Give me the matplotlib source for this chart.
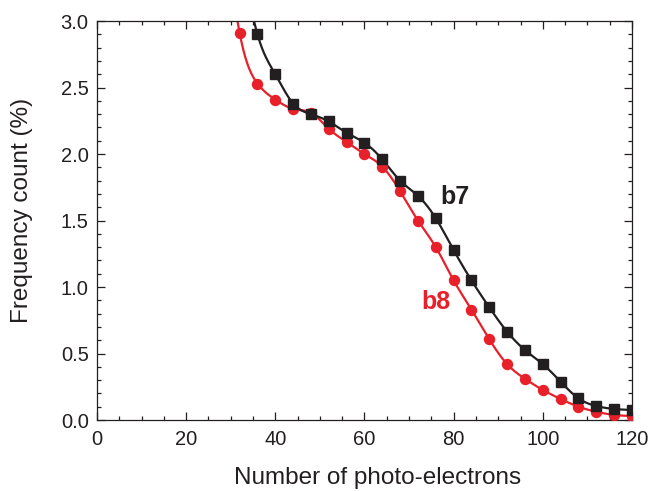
import numpy as np
import matplotlib
matplotlib.use("Agg")
import matplotlib.pyplot as plt
from matplotlib.ticker import MultipleLocator

plt.rcParams['font.family'] = ['Liberation Sans', 'DejaVu Sans']

# b7 (black squares); first point lies above the plotted range
b7_x = [32, 36, 40, 44, 48, 52, 56, 60, 64, 68, 72, 76, 80, 84, 88, 92, 96, 100, 104, 108, 112, 116, 120]
b7_y = [3.55, 2.90, 2.60, 2.38, 2.30, 2.245, 2.16, 2.085, 1.96, 1.80, 1.686, 1.517, 1.278, 1.05, 0.847, 0.664,
        0.526, 0.42, 0.288, 0.163, 0.105, 0.083, 0.075]
# b8 (red circles); first point lies above the plotted range
b8_x = [28, 32, 36, 40, 44, 48, 52, 56, 60, 64, 68, 72, 76, 80, 84, 88, 92, 96, 100, 104, 108, 112, 116, 120]
b8_y = [3.90, 2.91, 2.53, 2.41, 2.34, 2.31, 2.19, 2.09, 2.00, 1.905, 1.72, 1.50, 1.30, 1.05, 0.83, 0.607, 0.42,
        0.31, 0.226, 0.158, 0.10, 0.062, 0.038, 0.03]

x_ticks = [0, 20, 40, 60, 80, 100, 120]
y_ticks = [0.0, 0.5, 1.0, 1.5, 2.0, 2.5, 3.0]

BLACK = '#231F20'
RED = '#E8202A'


def natural_spline(x, y, n=400):
    x = np.asarray(x, float)
    y = np.asarray(y, float)
    k = len(x)
    h = np.diff(x)
    A = np.zeros((k, k))
    r = np.zeros(k)
    A[0, 0] = A[-1, -1] = 1
    for i in range(1, k - 1):
        A[i, i - 1] = h[i - 1]
        A[i, i] = 2 * (h[i - 1] + h[i])
        A[i, i + 1] = h[i]
        r[i] = 6 * ((y[i + 1] - y[i]) / h[i] - (y[i] - y[i - 1]) / h[i - 1])
    M = np.linalg.solve(A, r)
    xs = np.linspace(x[0], x[-1], n)
    idx = np.clip(np.searchsorted(x, xs) - 1, 0, k - 2)
    x0, x1 = x[idx], x[idx + 1]
    hh = x1 - x0
    a = (x1 - xs) / hh
    b = (xs - x0) / hh
    ys = a * y[idx] + b * y[idx + 1] + ((a ** 3 - a) * M[idx] + (b ** 3 - b) * M[idx + 1]) * hh ** 2 / 6
    return xs, ys


fig = plt.figure(figsize=(6.54, 4.91), dpi=100)
ax = fig.add_axes([0.1483, 0.1446, 0.818, 0.8124])

for xs, ys, col, mk, ms in [(b8_x, b8_y, RED, 'o', 7.2), (b7_x, b7_y, BLACK, 's', 6.6)]:
    sx, sy = natural_spline(xs, ys)
    ax.plot(sx, sy, color=col, lw=1.6, zorder=2)
    ax.plot(xs, ys, ls='none', marker=mk, ms=ms, color=col, mec=col, zorder=3)

ax.set_xlim(0, 120)
ax.set_ylim(0, 3.0)
ax.set_xticks(x_ticks)
ax.set_yticks(y_ticks)
ax.set_yticklabels([f"{v:.1f}" for v in y_ticks])
ax.xaxis.set_minor_locator(MultipleLocator(5))
ax.yaxis.set_minor_locator(MultipleLocator(0.1))
ax.tick_params(which='both', direction='in', top=True, right=True, labelsize=14.5, colors=BLACK,
               width=0.9)
ax.tick_params(axis='y', pad=6)
ax.tick_params(axis='x', pad=7)
ax.tick_params(which='major', length=5.5)
ax.tick_params(which='minor', length=3)
for s in ax.spines.values():
    s.set_linewidth(0.9)
    s.set_color(BLACK)

ax.set_xlabel('Number of photo-electrons', fontsize=17.5, color=BLACK)
ax.set_ylabel('Frequency count (%)', fontsize=17.5, color=BLACK)
ax.xaxis.set_label_coords(0.525, -0.145)
ax.yaxis.set_label_coords(-0.14, 0.525)
ax.xaxis.label.set_va('center')
ax.yaxis.label.set_va('center')

ax.text(80.3, 1.68, 'b7', color=BLACK, fontsize=18, fontweight='bold', ha='center', va='center')
ax.text(76.1, 0.89, 'b8', color=RED, fontsize=18, fontweight='bold', ha='center', va='center')

fig.savefig('out.png', dpi=100)
